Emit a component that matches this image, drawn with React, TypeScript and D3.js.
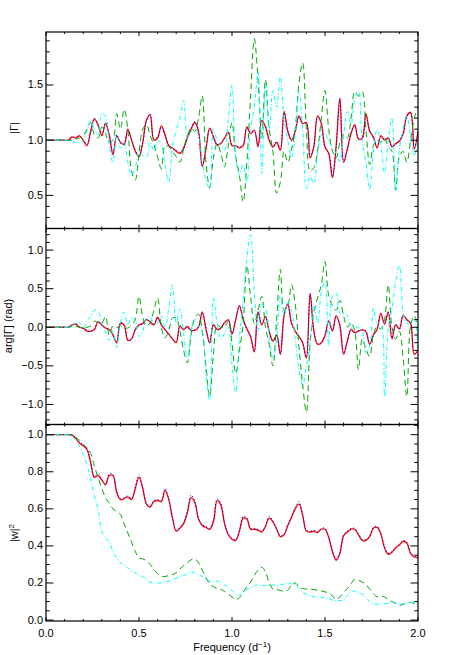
import React from 'react';
import * as d3 from 'd3';

// frequency grid (d^-1), 0 .. 2 in steps of 0.02
const FREQ = d3.range(0, 101).map((i) => i * 0.02);

// |Gamma|
const gammaRed = [
  1.00, 1.00, 1.00, 1.00, 1.00, 1.00, 1.00, 1.03, 1.02, 1.04,
  1.00, 0.95, 1.08, 1.19, 1.14, 1.04, 1.15, 1.05, 0.87, 1.04,
  0.98, 0.96, 1.10, 1.00, 0.90, 0.85, 0.98, 1.18, 1.23, 1.00,
  1.02, 1.13, 1.05, 0.95, 0.93, 0.90, 0.88, 0.93, 1.02, 1.10,
  1.16, 1.08, 0.76, 0.92, 1.11, 1.03, 0.96, 0.97, 1.02, 1.07,
  0.95, 0.95, 0.93, 0.95, 1.12, 1.06, 1.09, 0.94, 1.18, 1.12,
  1.00, 0.94, 0.98, 0.91, 1.26, 1.08, 1.00, 1.08, 1.22, 1.15,
  1.16, 0.84, 0.94, 1.22, 1.15, 0.94, 0.88, 0.66, 0.95, 1.38,
  0.80, 0.92, 1.06, 1.14, 1.01, 1.02, 1.24, 1.08, 1.03, 0.93,
  1.04, 1.00, 1.02, 0.94, 0.97, 0.99, 1.06, 1.22, 1.25, 0.92,
  1.08,
];
const gammaBlue = [
  1.00, 1.00, 1.00, 1.00, 1.00, 1.00, 1.00, 1.02, 1.03, 1.03,
  1.01, 0.96, 1.07, 1.20, 1.13, 1.05, 1.16, 1.04, 0.88, 1.05,
  0.97, 0.97, 1.09, 1.01, 0.91, 0.86, 0.97, 1.17, 1.24, 1.01,
  1.03, 1.12, 1.04, 0.96, 0.92, 0.91, 0.89, 0.92, 1.03, 1.11,
  1.17, 1.07, 0.77, 0.93, 1.10, 1.04, 0.95, 0.98, 1.01, 1.08,
  0.96, 0.94, 0.94, 0.96, 1.11, 1.07, 1.08, 0.95, 1.17, 1.13,
  1.01, 0.93, 0.99, 0.92, 1.25, 1.09, 0.99, 1.09, 1.21, 1.16,
  1.15, 0.85, 0.95, 1.21, 1.16, 0.93, 0.89, 0.67, 0.94, 1.37,
  0.81, 0.91, 1.07, 1.13, 1.02, 1.01, 1.23, 1.09, 1.02, 0.94,
  1.03, 1.01, 1.01, 0.95, 0.96, 1.00, 1.05, 1.21, 1.26, 0.93,
  1.07,
];
const gammaGreen = [
  1.00, 1.00, 1.00, 1.00, 1.00, 1.00, 1.00, 1.00, 1.01, 1.02,
  1.04, 1.10, 1.16, 1.05, 1.02, 1.12, 1.06, 0.98, 1.00, 1.24,
  1.10, 1.28, 1.10, 0.72, 0.64, 0.88, 1.10, 1.14, 1.04, 0.96,
  0.85, 0.74, 0.95, 0.94, 0.90, 0.85, 0.80, 0.92, 1.04, 1.11,
  1.08, 1.20, 1.40, 0.80, 0.57, 0.84, 0.97, 0.88, 0.76, 0.95,
  1.16, 0.85, 0.68, 0.44, 0.80, 1.40, 1.92, 1.55, 1.02, 1.55,
  1.10, 0.90, 0.52, 0.62, 0.90, 0.80, 0.92, 1.10, 1.52, 1.70,
  1.10, 0.72, 0.75, 0.90, 1.20, 1.45, 1.10, 0.90, 0.84, 0.98,
  1.05, 1.02, 1.20, 1.44, 1.40, 1.44, 1.10, 0.78, 0.95, 1.00,
  0.98, 1.02, 0.94, 0.90, 0.55, 0.85, 0.90, 0.80, 1.00, 1.20,
  1.30,
];
const gammaCyan = [
  1.00, 1.00, 1.00, 1.00, 1.00, 1.00, 1.00, 0.99, 0.98, 0.98,
  1.00, 1.08, 1.18, 1.10, 1.05, 1.24, 1.22, 0.95, 0.80, 1.05,
  0.93, 0.98, 0.80, 0.68, 0.75, 0.90, 0.86, 0.84, 0.98, 0.90,
  1.00, 0.96, 0.78, 0.62, 0.95, 1.09, 1.20, 1.36, 1.02, 1.08,
  1.10, 1.05, 0.80, 0.64, 0.56, 1.10, 1.00, 0.95, 0.91, 1.20,
  1.50, 0.84, 0.69, 0.78, 0.62, 1.10, 1.30, 1.62, 0.70, 1.50,
  1.10, 1.45, 1.30, 1.58, 1.20, 1.00, 0.84, 1.05, 1.44, 1.10,
  0.56, 0.68, 0.60, 0.88, 1.05, 1.06, 0.99, 0.94, 0.88, 0.80,
  1.05, 1.26, 1.14, 1.38, 1.45, 0.99, 0.80, 0.55, 0.90, 1.10,
  0.96, 0.70, 1.00, 1.20, 0.54, 0.92, 1.10, 1.22, 1.05, 0.86,
  0.99,
];

// arg[Gamma] (rad)
const argRed = [
  0, 0, 0, 0, 0, 0, 0, 0.03, 0.04, 0.00,
  -0.01, -0.05, -0.05, -0.03, 0.07, 0.03, -0.01, -0.03, -0.10, -0.20,
  0.05, 0.03, -0.17, -0.15, -0.03, 0.03, 0.05, 0.10, 0.07, 0.03,
  0.13, 0.03, -0.03, -0.09, -0.15, -0.20, 0.01, -0.03, 0.01, -0.04,
  -0.04, 0.00, 0.20, -0.02, -0.20, 0.03, -0.03, -0.01, 0.06, 0.10,
  -0.09, 0.10, 0.28, 0.10, -0.02, -0.12, -0.32, 0.20, 0.03, 0.14,
  -0.06, -0.18, -0.10, -0.35, 0.15, 0.30, 0.05, -0.05, -0.12, -0.20,
  -0.40, 0.44, -0.05, -0.22, -0.20, -0.11, 0.08, -0.05, 0.15, 0.02,
  -0.35, -0.18, -0.03, -0.07, -0.05, -0.03, -0.06, -0.22, -0.10, -0.03,
  0.18, 0.04, 0.20, -0.15, 0.03, -0.02, 0.15, 0.10, 0.05, -0.35,
  -0.30,
];
const argBlue = [
  0, 0, 0, 0, 0, 0, 0, 0.02, 0.05, 0.01,
  -0.02, -0.04, -0.06, -0.02, 0.08, 0.02, -0.02, -0.02, -0.11, -0.19,
  0.06, 0.02, -0.16, -0.16, -0.02, 0.04, 0.04, 0.11, 0.06, 0.04,
  0.12, 0.04, -0.04, -0.08, -0.16, -0.19, 0.02, -0.02, 0.00, -0.05,
  -0.03, 0.01, 0.19, -0.01, -0.21, 0.04, -0.02, -0.02, 0.07, 0.09,
  -0.08, 0.11, 0.27, 0.11, -0.03, -0.11, -0.31, 0.19, 0.04, 0.13,
  -0.05, -0.17, -0.11, -0.34, 0.16, 0.29, 0.06, -0.06, -0.11, -0.21,
  -0.39, 0.43, -0.04, -0.21, -0.21, -0.10, 0.09, -0.04, 0.14, 0.03,
  -0.34, -0.19, -0.02, -0.08, -0.04, -0.04, -0.05, -0.21, -0.11, -0.02,
  0.17, 0.05, 0.19, -0.14, 0.04, -0.03, 0.16, 0.09, 0.06, -0.34,
  -0.31,
];
const argGreen = [
  0, 0, 0, 0, 0, 0, 0, 0.02, 0.01, 0.00,
  -0.01, 0.00, 0.02, 0.08, 0.06, 0.05, 0.14, -0.10, 0.02, 0.00,
  0.02, -0.01, -0.01, 0.03, 0.10, 0.40, 0.13, 0.02, 0.06, 0.22,
  0.38, 0.00, -0.14, -0.04, 0.12, 0.12, -0.05, -0.30, -0.46, -0.10,
  0.12, 0.17, -0.05, -0.50, -0.90, -0.35, 0.03, 0.00, 0.00, 0.08,
  -0.20, -0.60, -0.30, 0.05, 0.80, 0.40, 0.05, 0.22, 0.40, 0.00,
  -0.22, -0.50, 0.10, 0.75, 0.22, 0.28, 0.55, 0.30, -0.25, -0.75,
  -1.10, -0.20, 0.20, 0.38, 0.55, 0.85, 0.41, 0.28, 0.22, 0.35,
  0.15, 0.00, 0.06, -0.05, -0.55, -0.15, -0.28, -0.38, -0.10, 0.01,
  -0.02, 0.10, 0.55, 0.00, -0.15, -0.05, -0.40, -0.90, 0.02, 0.15,
  -0.02,
];
const argCyan = [
  0, 0, 0, 0, 0, 0, 0, 0.00, 0.08, 0.06,
  -0.01, 0.08, 0.14, 0.22, 0.22, 0.05, -0.06, -0.17, -0.05, -0.26,
  0.06, 0.20, 0.03, 0.13, 0.08, -0.12, -0.05, 0.12, 0.13, 0.05,
  0.05, 0.15, 0.00, 0.25, 0.55, 0.05, 0.24, -0.08, -0.40, -0.05,
  0.10, 0.03, -0.05, -0.60, -0.95, 0.38, 0.05, -0.15, -0.08, 0.00,
  -0.48, -0.85, -0.15, 0.35, 0.90, 1.20, 0.45, -0.05, 0.30, 0.25,
  -0.10, -0.40, -0.15, 0.41, 0.15, 0.32, 0.22, -0.15, -0.55, -0.75,
  -0.50, -0.20, 0.30, 0.05, 0.45, 0.59, -0.24, 0.40, 0.45, 0.18,
  0.18, 0.15, 0.02, 0.00, 0.00, -0.05, -0.33, -0.25, 0.25, 0.05,
  0.05, -0.90, 0.00, 0.25, 0.59, 0.80, 0.20, 0.05, 0.05, 0.10,
  -0.35,
];

// |w|^2
const wRed = [
  1.0, 1.0, 1.0, 1.0, 1.0, 1.0, 1.0, 0.998, 0.98, 0.955,
  0.94, 0.92, 0.85, 0.77, 0.78, 0.755, 0.73, 0.78, 0.78, 0.69,
  0.65, 0.655, 0.665, 0.65, 0.71, 0.77, 0.71, 0.625, 0.61, 0.64,
  0.645, 0.64, 0.70, 0.65, 0.55, 0.48, 0.495, 0.52, 0.58, 0.66,
  0.635, 0.545, 0.51, 0.50, 0.49, 0.53, 0.645, 0.62, 0.52, 0.46,
  0.436, 0.43, 0.48, 0.55, 0.545, 0.49, 0.49, 0.485, 0.475, 0.505,
  0.55, 0.53, 0.49, 0.45, 0.46, 0.51, 0.555, 0.60, 0.625, 0.565,
  0.48, 0.475, 0.48, 0.472, 0.49, 0.49, 0.445, 0.37, 0.323, 0.36,
  0.454, 0.475, 0.49, 0.49, 0.46, 0.43, 0.43, 0.45, 0.495, 0.50,
  0.465, 0.39, 0.355, 0.365, 0.39, 0.405, 0.425, 0.415, 0.36, 0.34,
  0.335,
];
const wBlue = [
  1.0, 1.0, 1.0, 1.0, 1.0, 1.0, 1.0, 0.998, 0.985, 0.96,
  0.945, 0.925, 0.855, 0.775, 0.79, 0.76, 0.735, 0.79, 0.785, 0.695,
  0.655, 0.66, 0.67, 0.655, 0.72, 0.785, 0.72, 0.63, 0.615, 0.645,
  0.65, 0.645, 0.71, 0.655, 0.555, 0.485, 0.50, 0.525, 0.59, 0.675,
  0.64, 0.55, 0.515, 0.505, 0.495, 0.54, 0.655, 0.63, 0.525, 0.465,
  0.44, 0.435, 0.485, 0.56, 0.55, 0.495, 0.495, 0.49, 0.48, 0.51,
  0.56, 0.535, 0.495, 0.455, 0.465, 0.515, 0.56, 0.61, 0.64, 0.57,
  0.485, 0.48, 0.485, 0.477, 0.495, 0.495, 0.45, 0.375, 0.328, 0.365,
  0.46, 0.48, 0.495, 0.495, 0.465, 0.435, 0.435, 0.455, 0.50, 0.505,
  0.47, 0.395, 0.36, 0.37, 0.395, 0.41, 0.43, 0.42, 0.365, 0.345,
  0.34,
];
const wGreen = [
  1.0, 1.0, 1.0, 1.0, 1.0, 1.0, 1.0, 0.998, 0.985, 0.97,
  0.95, 0.93, 0.90, 0.83, 0.77, 0.71, 0.66, 0.63, 0.60, 0.585,
  0.57, 0.52, 0.47, 0.42, 0.37, 0.335, 0.33, 0.32, 0.30, 0.275,
  0.25, 0.235, 0.235, 0.24, 0.245, 0.255, 0.275, 0.295, 0.31, 0.325,
  0.33, 0.31, 0.27, 0.23, 0.195, 0.18, 0.17, 0.165, 0.155, 0.14,
  0.125, 0.11, 0.12, 0.15, 0.18, 0.205, 0.24, 0.27, 0.285, 0.26,
  0.20, 0.168, 0.165, 0.16, 0.155, 0.16, 0.19, 0.20, 0.18, 0.17,
  0.168, 0.166, 0.165, 0.16, 0.158, 0.152, 0.145, 0.13, 0.11, 0.125,
  0.15, 0.17, 0.195, 0.22, 0.215, 0.205, 0.19, 0.168, 0.145, 0.125,
  0.13, 0.125, 0.11, 0.10, 0.09, 0.08, 0.085, 0.095, 0.095, 0.09,
  0.09,
];
const wCyan = [
  1.0, 1.0, 1.0, 1.0, 1.0, 1.0, 1.0, 0.99, 0.97, 0.94,
  0.895, 0.84, 0.76, 0.67, 0.60, 0.48, 0.445, 0.42, 0.37, 0.335,
  0.31, 0.295, 0.28, 0.265, 0.255, 0.24, 0.235, 0.22, 0.205, 0.20,
  0.20, 0.20, 0.205, 0.21, 0.22, 0.225, 0.235, 0.24, 0.25, 0.26,
  0.255, 0.245, 0.235, 0.22, 0.21, 0.205, 0.21, 0.205, 0.19, 0.175,
  0.16, 0.14, 0.135, 0.15, 0.165, 0.175, 0.185, 0.19, 0.186, 0.186,
  0.185, 0.19, 0.186, 0.19, 0.195, 0.20, 0.195, 0.19, 0.17, 0.15,
  0.14, 0.13, 0.125, 0.125, 0.124, 0.12, 0.115, 0.108, 0.105, 0.105,
  0.11, 0.13, 0.155, 0.155, 0.145, 0.14, 0.12, 0.10, 0.088, 0.085,
  0.088, 0.088, 0.09, 0.095, 0.092, 0.088, 0.088, 0.09, 0.095, 0.097,
  0.10,
];

const X_TICKS = ['0.0', '0.5', '1.0', '1.5', '2.0'];

const W = 463;
const H = 655;
const LEFT = 46;
const RIGHT = 418;
const FONT = '"Liberation Sans", Arial, Helvetica, sans-serif';

const STYLES = {
  red: { stroke: '#ff0000', width: 1.3, dash: null },
  blue: { stroke: '#0000ff', width: 1, dash: '1,2.5' },
  green: { stroke: '#00a800', width: 1, dash: '6,4' },
  cyan: { stroke: '#00ffff', width: 1, dash: '4,2,1,2' },
};

// labelX: baseline of the rotated y title (IDL moves it left past wider tick labels)
const PANELS = [
  {
    id: 'p1', top: 32, bottom: 228.5, domain: [0.2, 1.98], major: 0.5, minor: 0.1,
    labelX: 18, labelY: 128, title: [{ t: '|Γ|' }],
    series: [['red', gammaRed], ['blue', gammaBlue], ['green', gammaGreen], ['cyan', gammaCyan]],
  },
  {
    id: 'p2', top: 228.5, bottom: 424.5, domain: [-1.26, 1.28], major: 0.5, minor: 0.1,
    labelX: 12, labelY: 326, title: [{ t: 'arg[Γ] (rad)' }],
    series: [['red', argRed], ['blue', argBlue], ['green', argGreen], ['cyan', argCyan]],
  },
  {
    id: 'p3', top: 424.5, bottom: 621, domain: [-0.005, 1.055], major: 0.2, minor: 0.05,
    labelX: 18, labelY: 533, title: [{ t: '|w|' }, { t: '2', sup: true }],
    series: [['red', wRed], ['blue', wBlue], ['green', wGreen], ['cyan', wCyan]],
  },
];

const x = d3.scaleLinear().domain([0, 2]).range([LEFT, RIGHT]);
const fmt = (v) => d3.format('.1f')(Math.abs(v) < 1e-9 ? 0 : v).replace('-', '\u2212');

function Panel({ p, last }) {
  const y = d3.scaleLinear().domain(p.domain).range([p.bottom, p.top]);
  const line = d3.line()
    .x((d) => x(d[0]))
    .y((d) => y(d[1]))
    .curve(d3.curveCatmullRom.alpha(0.5));

  const ph = p.bottom - p.top;
  const pw = RIGHT - LEFT;
  const xMaj = 0.02 * ph;
  const yMaj = 0.02 * pw;

  const xt = d3.range(0, 21).map((i) => i / 10);
  const lo = Math.ceil(p.domain[0] / p.minor - 1e-6);
  const hi = Math.floor(p.domain[1] / p.minor + 1e-6);
  const yt = d3.range(lo, hi + 1).map((i) => +(i * p.minor).toFixed(4));
  const isMajor = (v, step) => Math.abs(v / step - Math.round(v / step)) < 1e-6;

  return (
    <g>
      <clipPath id={`clip-${p.id}`}>
        <rect x={LEFT} y={p.top} width={pw} height={ph} />
      </clipPath>
      <g clipPath={`url(#clip-${p.id})`} fill="none">
        {p.series.map(([key, vals]) => {
          const s = STYLES[key];
          return (
            <path
              key={key}
              d={line(FREQ.map((f, i) => [f, vals[i]]))}
              stroke={s.stroke}
              strokeWidth={s.width}
              strokeDasharray={s.dash || undefined}
              strokeLinejoin="round"
            />
          );
        })}
      </g>
      <rect x={LEFT} y={p.top} width={pw} height={ph} fill="none" stroke="#000" strokeWidth={1.2} />
      <g stroke="#000" strokeWidth={1}>
        {xt.map((v) => {
          const len = isMajor(v, 0.5) ? xMaj : xMaj / 2;
          return (
            <g key={`x${v}`}>
              <line x1={x(v)} x2={x(v)} y1={p.bottom} y2={p.bottom - len} />
              <line x1={x(v)} x2={x(v)} y1={p.top} y2={p.top + len} />
            </g>
          );
        })}
        {yt.map((v) => {
          const len = isMajor(v, p.major) ? yMaj : yMaj / 2;
          return (
            <g key={`y${v}`}>
              <line x1={LEFT} x2={LEFT + len} y1={y(v)} y2={y(v)} />
              <line x1={RIGHT} x2={RIGHT - len} y1={y(v)} y2={y(v)} />
            </g>
          );
        })}
      </g>
      <g fontFamily={FONT} fontSize={11} fill="#000">
        {yt.filter((v) => isMajor(v, p.major)).map((v) => (
          <text key={`yl${v}`} x={LEFT - 3} y={y(v) + 3.5} textAnchor="end">{fmt(v)}</text>
        ))}
        <text transform={`translate(${p.labelX},${p.labelY}) rotate(-90)`} textAnchor="middle">
          {p.title.map((s, i) => (
            <tspan key={i} fontSize={s.sup ? 8 : 11} dy={s.sup ? -4 : 0}>{s.t}</tspan>
          ))}
        </text>
        {last && X_TICKS.map((t) => (
          <text key={`xl${t}`} x={x(+t)} y={637} textAnchor="middle">{t}</text>
        ))}
      </g>
    </g>
  );
}

export default function App() {
  return (
    <svg
      width={W}
      height={H}
      viewBox={`0 0 ${W} ${H}`}
      style={{ position: 'absolute', left: 0, top: 0, background: '#fff' }}
    >
      {PANELS.map((p, i) => (
        <Panel key={p.id} p={p} last={i === PANELS.length - 1} />
      ))}
      <text x={x(1)} y={651} textAnchor="middle" fontFamily={FONT} fontSize={11}>
        Frequency (d
        <tspan fontSize={8} dy={-4}>{'\u22121'}</tspan>
        <tspan dy={4}>)</tspan>
      </text>
    </svg>
  );
}
